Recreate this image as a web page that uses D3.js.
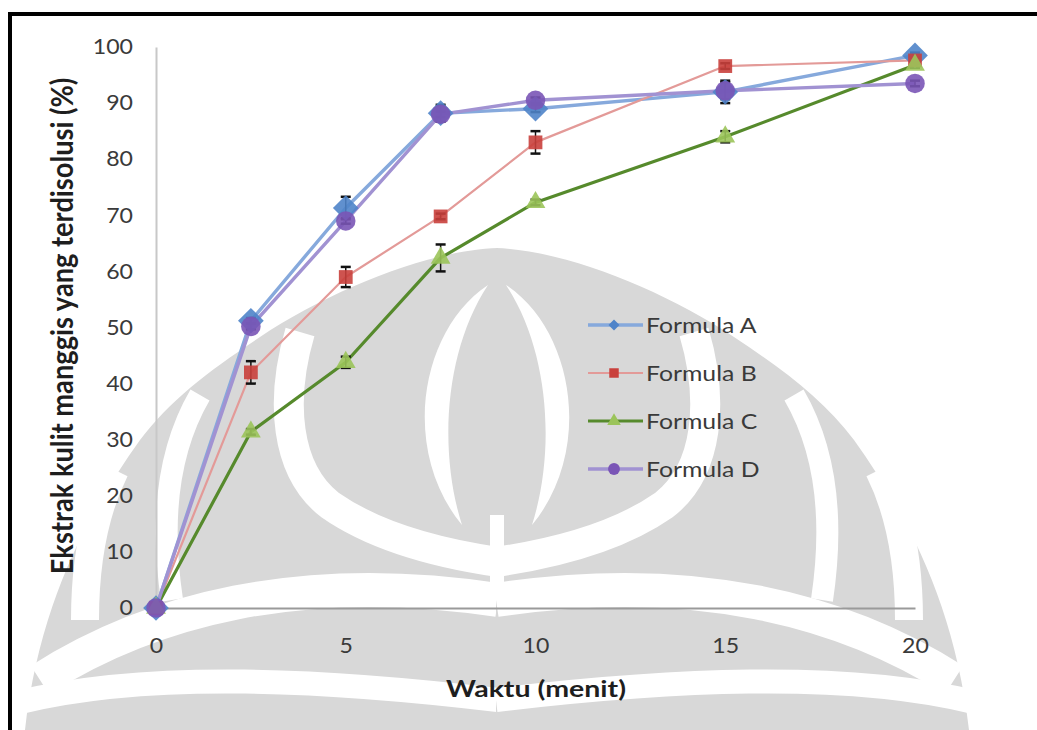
<!DOCTYPE html>
<html>
<head>
<meta charset="utf-8">
<script src="https://cdn.jsdelivr.net/npm/d3@7"></script>
<style>
  html, body { margin: 0; padding: 0; background: #fff; }
  svg { display: block; }
  text { font-family: Lato, "Open Sans", sans-serif; }
</style>
</head>
<body>
<svg id="chart" width="1037" height="730"></svg>
<script>
// Data
const times = [0, 2.5, 5, 7.5, 10, 15, 20];
const seriesNames = ['Formula A', 'Formula B', 'Formula C', 'Formula D'];
const formulaA = [0, 51.2, 71.3, 88.2, 89.0, 92.0, 98.5];
const formulaB = [0, 42.0, 59.0, 69.8, 83.0, 96.6, 97.6];
const formulaC = [0, 31.4, 43.8, 62.4, 72.3, 84.0, 96.8];
const formulaD = [0, 50.2, 69.0, 88.0, 90.5, 92.2, 93.5];
const errA = [0, 0.5, 2.0, 1.5, 0.6, 2.0, 0.5];
const errB = [0, 2.0, 1.8, 0.5, 2.0, 0.5, 0.5];
const errC = [0, 0.5, 1.0, 2.4, 0.5, 1.0, 0.5];
const errD = [0, 0.5, 0.5, 0.5, 0.5, 1.5, 0.5];
const xTicks = [0, 5, 10, 15, 20];
const yTicks = [0, 10, 20, 30, 40, 50, 60, 70, 80, 90, 100];

const STYLE = [
  { line: '#86a9dc', lineW: 3.4, fill: '#4f84c9', shape: 'diamond', size: 330, legSize: 60 },
  { line: '#e39a98', lineW: 2.2, fill: '#c9403c', shape: 'square', size: 190, legSize: 90 },
  { line: '#568a2c', lineW: 3.2, fill: '#9bc45a', shape: 'triangle', size: 170, legSize: 80 },
  { line: '#a192d2', lineW: 3.4, fill: '#7a55b6', shape: 'circle', size: 300, legSize: 110 }
];

const svg = d3.select('#chart');

// Scales
const x = d3.scaleLinear().domain([0, 20]).range([156, 915]);
const y = d3.scaleLinear().domain([0, 100]).range([608, 47]);

// stretch text horizontally around its anchor (source image is widened)
function stretch(sel, sx) {
  sel.each(function() {
    const t = d3.select(this);
    const ax = +t.attr('x') || 0;
    t.attr('transform', `translate(${ax * (1 - sx)},0) scale(${sx},1)`);
  });
}

// Watermark (background logo, rough approximation, mirrored about x=497)
function drawWatermark() {
  const GRAY = '#d8d8d8';
  const wm = svg.append('g');
  const half = (g) => {
    g.append('path')
      .attr('d', 'M498,248 C430,250 330,290 260,337 C210,370 170,400 140,440 C90,510 40,600 25,730 L498,730 Z')
      .attr('fill', GRAY);
    const cuts = [
      ['M300,332 C280,400 285,470 330,505 C380,540 450,555 498,562', 30],
      ['M200,395 C168,450 160,520 172,600', 22],
      ['M115,470 C95,510 85,560 85,620', 28],
      ['M40,680 C150,610 300,570 498,600', 34],
      ['M20,702 C150,670 330,680 498,700', 24]
    ];
    cuts.forEach(([d, w]) => g.append('path').attr('d', d)
      .attr('fill', 'none').attr('stroke', '#fff').attr('stroke-width', w));
    g.append('path')
      .attr('d', 'M488,285 C420,330 400,450 462,525 C438,450 445,350 488,285 Z')
      .attr('fill', '#fff');
  };
  half(wm.append('g'));
  half(wm.append('g').attr('transform', 'translate(994,0) scale(-1,1)'));
  wm.append('rect').attr('x', 490).attr('y', 515).attr('width', 14).attr('height', 75)
    .attr('fill', '#fff');
}
drawWatermark();

// Frame
svg.append('line').attr('x1', 8).attr('x2', 1037).attr('y1', 14).attr('y2', 14)
  .attr('stroke', '#000').attr('stroke-width', 4);
svg.append('line').attr('x1', 10).attr('x2', 10).attr('y1', 12).attr('y2', 730)
  .attr('stroke', '#000').attr('stroke-width', 4);

// Axes
const yAxis = svg.append('g')
  .attr('transform', 'translate(156,0)')
  .call(d3.axisLeft(y).tickValues(yTicks).tickSize(0).tickPadding(23));
yAxis.select('.domain').attr('stroke', '#c8c8c8').attr('stroke-width', 2);
yAxis.selectAll('text').attr('font-size', 21).attr('fill', '#3a3a3a')
  .attr('font-family', 'Lato, sans-serif').call(stretch, 1.1);

const xAxis = svg.append('g')
  .attr('transform', 'translate(0,608)')
  .call(d3.axisBottom(x).tickValues(xTicks).tickSize(0).tickPadding(30));
xAxis.select('.domain').attr('stroke', '#9a9a9a').attr('stroke-width', 2);
xAxis.selectAll('text').attr('font-size', 21).attr('fill', '#3a3a3a')
  .attr('font-family', 'Lato, sans-serif').call(stretch, 1.1);

// Axis titles
svg.append('text')
  .attr('x', 536).attr('y', 697)
  .attr('text-anchor', 'middle')
  .attr('font-size', 23).attr('font-weight', 'bold').attr('fill', '#1e1e1e')
  .text('Waktu (menit)')
  .call(stretch, 1.24);

svg.append('text')
  .attr('transform', 'translate(73,326) rotate(-90) scale(1.09,1.25)')
  .attr('text-anchor', 'middle')
  .attr('font-size', 25).attr('font-weight', 'bold').attr('fill', '#1e1e1e')
  .text('Ekstrak kulit manggis yang terdisolusi (%)');

// Series
const allValues = [formulaA, formulaB, formulaC, formulaD];
const allErr = [errA, errB, errC, errD];
const series = seriesNames.map((name, i) => ({
  name,
  style: STYLE[i],
  points: times.map((t, j) => ({ t, v: allValues[i][j], e: allErr[i][j] }))
}));

function symbolPath(shape, size) {
  const types = { diamond: d3.symbolSquare, square: d3.symbolSquare, triangle: d3.symbolTriangle, circle: d3.symbolCircle };
  return d3.symbol().type(types[shape]).size(size)();
}

const line = d3.line().x(d => x(d.t)).y(d => y(d.v));

// lines
series.forEach(s => {
  svg.append('path')
    .datum(s.points)
    .attr('d', line)
    .attr('fill', 'none')
    .attr('stroke', s.style.line)
    .attr('stroke-width', s.style.lineW)
    .attr('stroke-linejoin', 'round');
});

// error bars
series.forEach(s => {
  const g = svg.append('g');
  s.points.filter(p => p.e > 0 && p.t > 0).forEach(p => {
    const cx = x(p.t);
    const y1 = y(p.v + p.e), y2 = y(p.v - p.e);
    g.append('line').attr('x1', cx).attr('x2', cx).attr('y1', y1).attr('y2', y2)
      .attr('stroke', '#111').attr('stroke-width', 1.5);
    [y1, y2].forEach(yy => g.append('line')
      .attr('x1', cx - 5).attr('x2', cx + 5).attr('y1', yy).attr('y2', yy)
      .attr('stroke', '#111').attr('stroke-width', 2.5));
  });
});

// markers
series.forEach(s => {
  svg.append('g').selectAll('path')
    .data(s.points)
    .join('path')
    .attr('d', symbolPath(s.style.shape, s.style.size))
    .attr('transform', d => `translate(${x(d.t)},${y(d.v)})` + (s.style.shape === 'diamond' ? ' rotate(45)' : ''))
    .attr('fill', s.style.fill)
    .attr('fill-opacity', 0.9);
});

// Legend
const legend = svg.append('g');
series.forEach((s, i) => {
  const cy = 325 + i * 48;
  legend.append('line').attr('x1', 588).attr('x2', 643).attr('y1', cy).attr('y2', cy)
    .attr('stroke', s.style.line).attr('stroke-width', s.style.lineW);
  legend.append('path')
    .attr('d', symbolPath(s.style.shape, s.style.legSize))
    .attr('transform', `translate(614,${cy})` + (s.style.shape === 'diamond' ? ' rotate(45)' : ''))
    .attr('fill', s.style.fill);
  legend.append('text')
    .attr('x', 646).attr('y', cy).attr('dy', '0.36em')
    .attr('font-size', 21).attr('fill', '#3a3a3a')
    .text(s.name)
    .call(stretch, 1.18);
});
</script>
</body>
</html>
